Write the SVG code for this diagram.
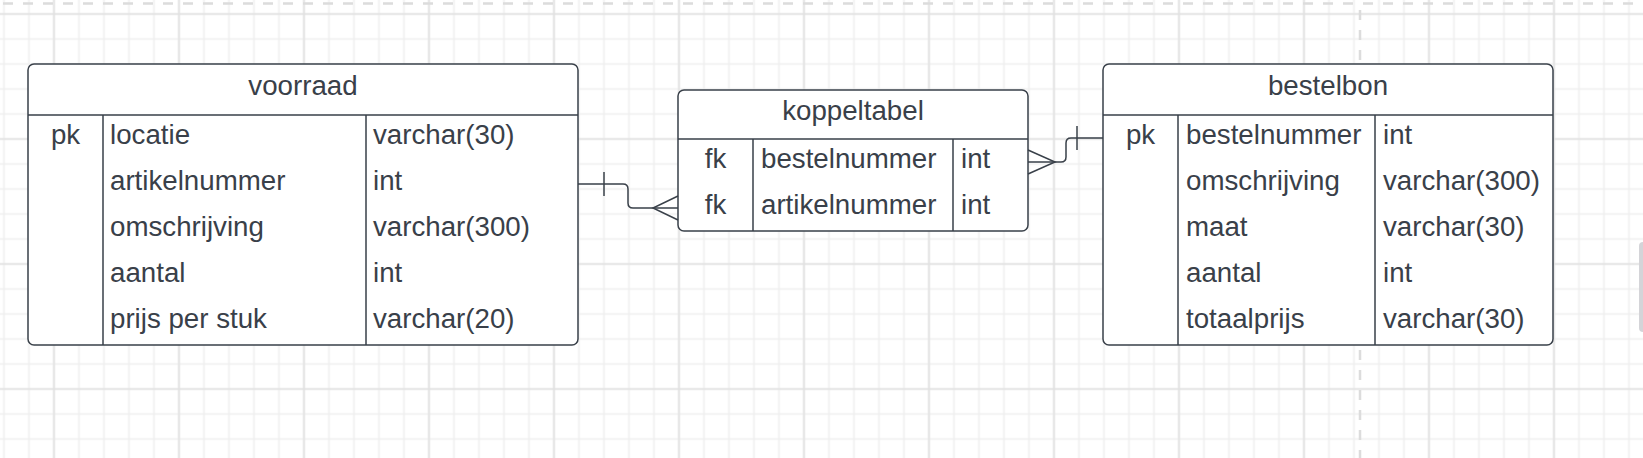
<svg xmlns="http://www.w3.org/2000/svg" width="1643" height="458" viewBox="0 0 1643 458">
  <style>
    text { font-family: "Liberation Sans", Arial, sans-serif; font-size: 27.7px; fill: #394049; }
    .c { text-anchor: middle; }
    .box { fill: #ffffff; stroke: #394049; stroke-width: 1.5; }
    .ln { stroke: #394049; stroke-width: 1.5; fill: none; }
    .conn { stroke: #394049; stroke-width: 1.5; fill: none; }
  </style>
  <defs>
    <pattern id="minor" patternUnits="userSpaceOnUse" x="-8.5" y="1.5" width="25" height="25">
      <path d="M12.5 0V25M0 12.5H25" stroke="#efefef" stroke-width="1.6" fill="none"/>
    </pattern>
    <pattern id="major" patternUnits="userSpaceOnUse" x="-8.5" y="-48.5" width="125" height="125">
      <path d="M62.5 0V125M0 62.5H125" stroke="#e1e1e1" stroke-width="1.6" fill="none"/>
    </pattern>
  </defs>

  <g id="background">
    <rect width="1643" height="458" fill="#ffffff"/>
    <rect width="1643" height="458" fill="url(#minor)"/>
    <rect width="1643" height="458" fill="url(#major)"/>
    <line x1="0" y1="3.5" x2="1643" y2="3.5" stroke="#dcdcdc" stroke-width="2.5" stroke-dasharray="10 10" stroke-dashoffset="-3"/>
    <line x1="1360" y1="10" x2="1360" y2="458" stroke="#dcdcdc" stroke-width="2.5" stroke-dasharray="10 10"/>
    <rect x="1639" y="242" width="10" height="90" rx="4" fill="#d4d4d8"/>
  </g>

  <g id="voorraad">
    <rect class="box" x="28" y="64" width="550" height="281" rx="6"/>
    <path class="ln" d="M28 115H578M103 115V345M366 115V345"/>
    <text class="c" x="303" y="95">voorraad</text>
    <text class="c" x="65.5" y="143.5">pk</text>
    <text x="110" y="143.5">locatie</text>
    <text x="373" y="143.5">varchar(30)</text>
    <text x="110" y="189.5">artikelnummer</text>
    <text x="373" y="189.5">int</text>
    <text x="110" y="235.5">omschrijving</text>
    <text x="373" y="235.5">varchar(300)</text>
    <text x="110" y="281.5">aantal</text>
    <text x="373" y="281.5">int</text>
    <text x="110" y="327.5">prijs per stuk</text>
    <text x="373" y="327.5">varchar(20)</text>
  </g>

  <g id="koppeltabel">
    <rect class="box" x="678" y="90" width="350" height="141" rx="6"/>
    <path class="ln" d="M678 139H1028M753 139V231M953 139V231"/>
    <text class="c" x="853" y="120">koppeltabel</text>
    <text class="c" x="715.5" y="167.5">fk</text>
    <text x="761" y="167.5">bestelnummer</text>
    <text x="961" y="167.5">int</text>
    <text class="c" x="715.5" y="213.5">fk</text>
    <text x="761" y="213.5">artikelnummer</text>
    <text x="961" y="213.5">int</text>
  </g>

  <g id="bestelbon">
    <rect class="box" x="1103" y="64" width="450" height="281" rx="6"/>
    <path class="ln" d="M1103 115H1553M1178 115V345M1375 115V345"/>
    <text class="c" x="1328" y="95">bestelbon</text>
    <text class="c" x="1140.5" y="143.5">pk</text>
    <text x="1186" y="143.5">bestelnummer</text>
    <text x="1383" y="143.5">int</text>
    <text x="1186" y="189.5">omschrijving</text>
    <text x="1383" y="189.5">varchar(300)</text>
    <text x="1186" y="235.5">maat</text>
    <text x="1383" y="235.5">varchar(30)</text>
    <text x="1186" y="281.5">aantal</text>
    <text x="1383" y="281.5">int</text>
    <text x="1186" y="327.5">totaalprijs</text>
    <text x="1383" y="327.5">varchar(30)</text>
  </g>

  <g id="connectors">
    <path class="conn" d="M578 184H623Q628 184 628 189V203Q628 208 633 208H678"/>
    <path class="conn" d="M604 172V196"/>
    <path class="conn" d="M678 196L653 208L678 220"/>
    <path class="conn" d="M1028 162H1061Q1066 162 1066 157V143Q1066 138 1071 138H1103"/>
    <path class="conn" d="M1077 126V150"/>
    <path class="conn" d="M1028 150L1055 162L1028 174"/>
  </g>
</svg>
